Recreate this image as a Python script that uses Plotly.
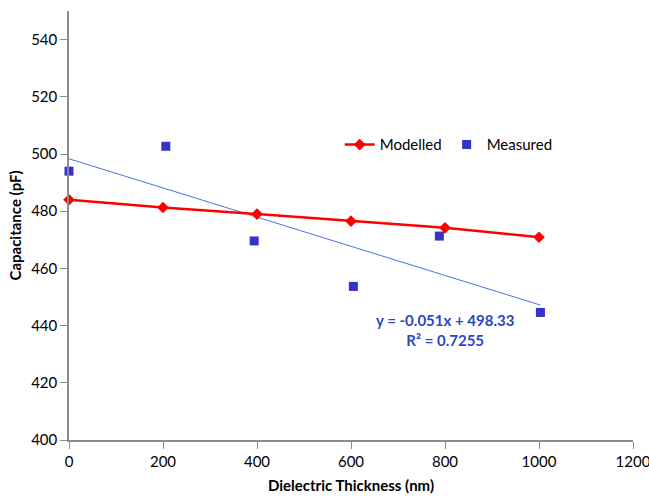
import plotly.graph_objects as go
import numpy as np

# Data
modelled_x = [0, 200, 400, 600, 800, 1000]
modelled_y = [484.0, 481.3, 479.0, 476.5, 474.2, 470.9]
measured_x = [0, 206, 394, 605, 788, 1003]
measured_y = [494.0, 502.7, 469.6, 453.7, 471.3, 444.6]
trend_slope = -0.051
trend_intercept = 498.33
trend_r2 = 0.7255
x_ticks = [0, 200, 400, 600, 800, 1000, 1200]
y_ticks = [400, 420, 440, 460, 480, 500, 520, 540]

FONT = "Lato, 'Open Sans', sans-serif"

trend_x = np.array([min(measured_x), max(measured_x)], dtype=float)
trend_y = trend_slope * trend_x + trend_intercept

fig = go.Figure()
fig.add_trace(go.Scatter(x=trend_x, y=trend_y, mode="lines",
                         line=dict(color="#4A72DC", width=1),
                         showlegend=False, hoverinfo="skip", cliponaxis=False))
fig.add_trace(go.Scatter(x=modelled_x, y=modelled_y, mode="lines+markers", name="Modelled",
                         line=dict(color="#FF0000", width=2.5),
                         marker=dict(symbol="diamond", size=9, color="#FF0000"),
                         cliponaxis=False))
fig.add_trace(go.Scatter(x=measured_x, y=measured_y, mode="markers", name="Measured",
                         marker=dict(symbol="square", size=9, color="#3333CC"),
                         cliponaxis=False))

fig.add_annotation(x=800, y=438.5, xref="x", yref="y",
                   text=f"<b>y = {trend_slope}x + {trend_intercept}<br>R² = {trend_r2}</b>",
                   showarrow=False, align="center",
                   font=dict(family=FONT, size=15, color="#2B47C6"))

axis_common = dict(showline=True, linecolor="#8C8C8C", linewidth=1.5, showgrid=False,
                   zeroline=False, ticks="outside", ticklen=7, tickcolor="#8C8C8C",
                   automargin=False,
                   tickfont=dict(family=FONT, size=15, color="#000000"))

fig.update_xaxes(range=[0, 1200], tickvals=x_ticks, ticklabeloverflow="allow", **axis_common,
                 title=dict(text="<b>Dielectric Thickness (nm)</b>",
                            font=dict(family=FONT, size=15, color="#000000"), standoff=12))
fig.update_yaxes(range=[400, 550], tickvals=y_ticks, **axis_common,
                 title=dict(text="<b>Capacitance (pF)</b>",
                            font=dict(family=FONT, size=15, color="#000000"), standoff=6))

fig.update_layout(
    width=649, height=497,
    margin=dict(l=69, r=16, t=11, b=57),
    paper_bgcolor="white", plot_bgcolor="white",
    showlegend=True,
    legend=dict(orientation="h", x=0.48, y=0.688, xanchor="left", yanchor="middle",
                bgcolor="rgba(0,0,0,0)", itemwidth=30, tracegroupgap=0,
                font=dict(family=FONT, size=15, color="#000000")),
)

fig.write_html("out.html")
